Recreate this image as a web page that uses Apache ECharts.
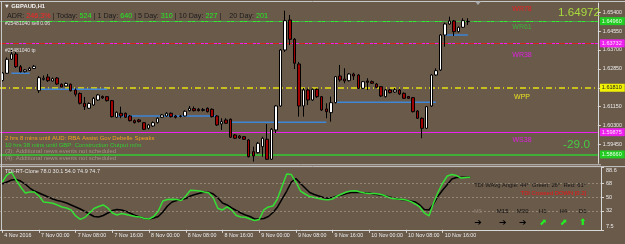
<!DOCTYPE html>
<html><head><meta charset="utf-8">
<script src="https://cdn.jsdelivr.net/npm/echarts@6/dist/echarts.min.js"></script>
<style>html,body{margin:0;padding:0;background:#6a5a4a;overflow:hidden}#c{width:625px;height:244px}</style>
</head><body><div id="c"></div>
<script>
// ---- time axis (H1 bars) ----
const sessions = [["4 Nov",16,23],["7 Nov",0,23],["8 Nov",0,23],["9 Nov",0,23],["10 Nov",0,22]];
const tickLabels = ["4 Nov 2016","7 Nov 00:00","7 Nov 08:00","7 Nov 16:00","8 Nov 00:00","8 Nov 08:00","8 Nov 16:00","9 Nov 00:00","9 Nov 08:00","9 Nov 16:00","10 Nov 00:00","10 Nov 08:00","10 Nov 16:00"];
const emptySlots = 28; // chart shift area on the right

// ---- GBPAUD H1 OHLC ----
const opens = [1.62328,1.62652,1.63282,1.63520,1.62949,1.62724,1.62778,1.62868,
1.61869,1.62373,1.62485,1.62305,1.62440,1.62157,1.62080,1.62157,1.61900,1.61743,1.61302,1.61077,1.61225,1.61450,1.61608,1.61599,
1.61419,1.60672,1.60852,1.60852,1.60730,1.60519,1.60550,1.60429,1.60177,1.60280,1.60429,1.60672,1.60730,1.60852,1.60730,1.60708,
1.60730,1.60969,1.61059,1.61032,1.60978,1.61077,1.61032,1.60730,1.60370,1.60550,1.60582,1.59875,1.59830,1.59799,1.59650,1.59124,
1.59079,1.59349,1.59682,1.58782,1.60100,1.61180,1.63700,1.65050,1.64182,1.63070,1.61180,1.61900,1.61450,1.61932,1.61599,1.61045,
1.60879,1.61329,1.62530,1.62395,1.62319,1.62620,1.62575,1.61977,1.62305,1.62274,1.62170,1.62049,1.61599,1.61900,1.61810,1.61900,
1.61752,1.61608,1.61554,1.60955,1.60627,1.60177,1.61180,1.62575,1.62800,1.64375,1.64870,1.65005,1.64524,1.64722,1.64983];
const closes = [1.62665,1.63282,1.63520,1.62949,1.62724,1.62800,1.62877,1.62967,
1.62454,1.62427,1.62319,1.62409,1.62170,1.62035,1.62193,1.61869,1.61707,1.61302,1.61149,1.61293,1.61527,1.61675,1.61540,1.61419,
1.60699,1.60897,1.60730,1.60672,1.60519,1.60429,1.60474,1.60132,1.60325,1.60429,1.60627,1.60775,1.60852,1.60699,1.60672,1.60730,
1.60942,1.61077,1.60969,1.60969,1.61023,1.60924,1.60699,1.60325,1.60474,1.60402,1.59772,1.59727,1.59740,1.59682,1.58899,1.58930,
1.59502,1.59727,1.58782,1.60132,1.61180,1.63700,1.65019,1.64182,1.63102,1.61180,1.61900,1.61450,1.61932,1.61599,1.61000,1.60924,
1.61329,1.62499,1.62350,1.62305,1.62620,1.62530,1.61977,1.62274,1.62247,1.62202,1.62022,1.61630,1.61900,1.61779,1.61900,1.61720,
1.61527,1.61527,1.60924,1.60627,1.60177,1.61149,1.62575,1.62769,1.64375,1.64870,1.65005,1.64524,1.64722,1.65019,1.64972];
const lows = [1.62283,1.62620,1.63250,1.62890,1.62688,1.62688,1.62755,1.62845,
1.61765,1.62328,1.62260,1.62283,1.62125,1.62013,1.62058,1.61833,1.61608,1.61248,1.61000,1.61045,1.61180,1.61405,1.61495,1.61383,
1.60663,1.60640,1.60627,1.60640,1.60483,1.60393,1.60438,1.60100,1.60123,1.60235,1.60393,1.60640,1.60685,1.60663,1.60618,1.60663,
1.60708,1.60933,1.60933,1.60933,1.60933,1.60888,1.60663,1.60280,1.60100,1.60370,1.59740,1.59695,1.59695,1.59650,1.58863,1.58674,
1.59043,1.58899,1.58750,1.58750,1.59965,1.61135,1.63610,1.63925,1.62845,1.60699,1.60699,1.61225,1.61405,1.61540,1.60955,1.60627,
1.60474,1.61293,1.62274,1.62202,1.62283,1.62350,1.61945,1.61945,1.61900,1.62170,1.61990,1.61585,1.61563,1.61743,1.61765,1.61675,
1.61495,1.61495,1.60888,1.60595,1.59727,1.60145,1.61135,1.62530,1.62755,1.63849,1.64825,1.64330,1.64488,1.64690,1.64825];
const highs = [1.62710,1.63363,1.63700,1.63610,1.63025,1.62845,1.62935,1.63025,
1.62530,1.62553,1.62620,1.62463,1.62485,1.62193,1.62238,1.62193,1.61968,1.61788,1.61585,1.61338,1.61585,1.61720,1.61653,1.61630,
1.61450,1.60933,1.61149,1.60888,1.60775,1.60573,1.60595,1.60460,1.60370,1.60483,1.60663,1.60820,1.60910,1.60888,1.60775,1.60775,
1.60978,1.61180,1.61158,1.61090,1.61090,1.61113,1.61068,1.60775,1.60627,1.60627,1.60618,1.59920,1.59875,1.59830,1.59695,1.59349,
1.59560,1.59799,1.60370,1.60190,1.61225,1.63745,1.65469,1.65275,1.64240,1.63160,1.61990,1.61968,1.61968,1.61968,1.61630,1.61302,
1.61599,1.62530,1.63025,1.62877,1.62665,1.62679,1.62620,1.62305,1.62427,1.62328,1.62215,1.62080,1.61945,1.61945,1.61990,1.61945,
1.61788,1.61630,1.61585,1.61000,1.60663,1.61180,1.62620,1.62877,1.64420,1.64929,1.65199,1.65050,1.64758,1.65127,1.65127];

// ---- pivot levels & order lines ----
const pivotNames  = ["WR78","WR61","WR38","WPP","WS38","WS61"];
const pivotValues = [1.65793,1.64960,1.63732,1.61810,1.59875,1.58660];
const orderNames  = ["#25481040 sell 0.06","#25481040 tp"];
const orderValues = [1.64713,1.63543];
// blue segments: [startBar, endBar, price]
const blueSegs = [[2,6,1.62652],[8,23,1.61932],[25,47,1.60730],[50,71,1.60447],[73,95,1.61347],[97,102,1.64375]];
const currentPrice = "1.64972";
const spreadText = "-29.0";

// ---- TDI indicator ----
const tdiGreen = [69.7,78.8,82.7,72.3,63.2,55.4,56.7,56.7,
51.5,43.7,43.0,42.0,39.8,37.2,35.9,33.3,25.5,21.0,23.6,29.4,35.3,37.8,39.8,35.9,
29.4,26.8,28.7,27.4,26.1,24.8,24.2,22.2,21.6,24.8,32.0,45.0,46.9,47.2,46.9,45.6,
51.5,58.9,58.6,58.0,56.7,55.6,48.9,35.3,33.3,37.2,33.3,26.1,24.2,23.8,21.6,19.6,
21.0,33.3,37.2,38.5,48.2,64.5,80.1,79.4,69.7,58.0,54.1,50.8,49.5,48.2,46.9,46.5,
47.6,51.5,54.1,56.7,58.0,58.3,56.7,55.4,54.7,54.7,54.1,52.8,50.2,48.2,47.6,47.2,
46.3,44.4,41.1,37.2,29.4,25.5,42.4,56.7,68.4,77.5,79.4,78.1,74.9,75.5,75.8];
const tdiBlack = [67.1,69.7,72.3,73.0,71.0,67.1,61.9,58.0,
55.4,52.8,50.2,47.6,45.6,44.4,42.4,39.8,37.2,34.6,31.4,28.1,24.8,24.2,26.1,29.4,
32.6,33.9,33.3,31.4,28.7,26.1,24.2,22.2,21.6,22.9,24.8,30.7,38.5,43.7,45.6,46.9,
48.2,51.5,53.4,55.0,56.3,56.3,54.1,48.9,42.4,39.8,35.9,32.6,29.4,26.8,24.8,21.6,
21.6,22.2,24.8,30.0,37.2,47.6,58.0,69.7,74.2,67.7,61.9,56.0,53.4,51.5,49.5,48.5,
49.5,51.5,52.8,54.7,56.0,56.3,56.0,55.8,55.4,54.1,53.1,52.5,50.8,49.1,47.6,46.9,
45.9,45.0,43.7,39.8,33.9,33.3,41.1,51.5,59.3,66.4,73.6,75.5,75.8,75.8,75.8];
const indLevels = [7.5,32,50,68,88.6];
const indDotted = [32,50,68];
const tdiHeader = "TDI-RT-Clone 78.0 30.1 54.0 74.9 74.7";
const tfNames = ["M5","M15","M30","H1","H4","D1"];
const tfArrows = ["➔","➔","➔","⬈","⬈","⬆"];
const newsLines = ["2 hrs 8 mins until AUD: RBA Assist Gov Debelle Speaks","10 hrs 38 mins until GBP: Construction Output m/m","(3): Additional news events not scheduled","(4): Additional news events not scheduled"];
const adr = {ADR:"246.3%", Today:"524", d1:"640", d5:"310", d10:"227", d20:"201"};

// ---- build ----
const cats = [];
sessions.forEach(([d,h0,h1]) => { for (let h=h0; h<=h1; h++) cats.push(d+" "+String(h).padStart(2,"0")+":00"); });
const nBars = cats.length;
for (let i=0;i<emptySlots;i++) cats.push("");
const candleData = opens.map((o,i)=>[o, closes[i], lows[i], highs[i]]);

const FONT = "'Liberation Sans', Arial, sans-serif";
const pivotStyle = [
  {c:'#ff1a1a', t:'solid', w:1, box:'#ff1a1a', tc:'#ffd0d0', lc:'#e82020'},
  {c:'#33ee33', t:'solid', w:1, box:'#22cc22', tc:'#e8ffe8', lc:'#3cb43c'},
  {c:'#ee22ee', t:'solid', w:1, box:'#ee22ee', tc:'#ffe0ff', lc:'#e020e0'},
  {c:'#e8e010', t:[6,3,1,3], w:1.5, box:'#f0f000', tc:'#222', lc:'#e8e020'},
  {c:'#ee22ee', t:'solid', w:1, box:'#ee22ee', tc:'#ffe0ff', lc:'#e020e0'},
  {c:'#33cc33', t:'solid', w:1.5, box:'#22cc22', tc:'#e8ffe8', lc:'#3cb43c'}
];
const orderStyle = [{c:'#4aa84a'},{c:'#e02020'}];

const markData = [];
pivotValues.forEach((v,i)=>{
  const s = pivotStyle[i];
  markData.push({yAxis:v, lineStyle:{color:s.c, type:s.t, width:s.w},
    label:{show:true, position:'end', distance:2, formatter:()=>v.toFixed(5), backgroundColor:s.box, color:s.tc,
      fontSize:5.5, fontFamily:FONT, padding:[1,3,1,2]}});
});
orderValues.forEach((v,i)=>{
  markData.push({yAxis:v, lineStyle:{color:orderStyle[i].c, type:[6,3,1,3], width:1}, label:{show:false}});
});

const series = [];
blueSegs.forEach(([a,b,p])=>{
  series.push({type:'line', xAxisIndex:0, yAxisIndex:0, data:[[a,p],[b,p]], symbol:'none', silent:true,
    lineStyle:{color:'#3d86d8', width:1.5}, z:2});
});
series.push({type:'candlestick', xAxisIndex:0, yAxisIndex:0, data:candleData, barWidth:3, z:3,
  itemStyle:{color:'#ffffff', color0:'#a00000', borderColor:'#000000', borderColor0:'#000000', borderWidth:1},
  markLine:{symbol:['none','none'], silent:true, animation:false, data:markData, z:1}});
series.push({type:'line', xAxisIndex:1, yAxisIndex:1, data:tdiGreen, symbol:'none', silent:true,
  lineStyle:{color:'#33e033', width:1.5}, z:4,
  markLine:{symbol:['none','none'], silent:true, label:{show:false},
    data: indDotted.map(v=>({yAxis:v})), lineStyle:{color:'rgba(175,165,150,0.6)', type:[2,2], width:1}}});
series.push({type:'line', xAxisIndex:1, yAxisIndex:1, data:tdiBlack, symbol:'none', silent:true,
  lineStyle:{color:'#000000', width:1.5}, z:3});

const axisCol = '#d8d8d8';
const option = {
  backgroundColor:'#6a5a4a',
  animation:false,
  grid:[{left:0, top:3, width:601, height:160.3},{left:0, top:167.5, width:601, height:62.3}],
  xAxis:[
    {type:'category', gridIndex:0, data:cats, boundaryGap:true, axisLine:{show:false}, axisTick:{show:false}, axisLabel:{show:false}},
    {type:'category', gridIndex:1, data:cats, boundaryGap:true,
      axisLine:{show:true, lineStyle:{color:axisCol}},
      axisTick:{show:true, alignWithLabel:true, length:3, interval:(i)=> i%8===0 && i<nBars, lineStyle:{color:axisCol}},
      axisLabel:{show:true, interval:(i)=> i%8===0 && i<nBars, formatter:(v,i)=>tickLabels[i/8]||'', align:'left',
        color:'#ececec', fontSize:5.3, fontFamily:FONT, margin:3, padding:[0,0,0,2]}}
  ],
  yAxis:[
    {type:'value', gridIndex:0, position:'right', min:1.586, max:1.65815, interval:0.0085,
      axisLine:{show:true, lineStyle:{color:axisCol}}, axisTick:{show:true, length:3, lineStyle:{color:axisCol}},
      splitLine:{show:false},
      axisLabel:{formatter:v=>v.toFixed(5), color:'#ececec', fontSize:5.3, fontFamily:FONT, margin:5, showMinLabel:false, showMaxLabel:false}},
    {type:'value', gridIndex:1, position:'right', min:7.5, max:88.6,
      axisLine:{show:true, lineStyle:{color:axisCol}}, axisTick:{show:true, length:3, customValues:indLevels, lineStyle:{color:axisCol}},
      splitLine:{show:false},
      axisLabel:{customValues:indLevels, formatter:v=>String(v), color:'#ececec', fontSize:5.5, fontFamily:FONT, margin:5,
        verticalAlignMaxLabel:'top', verticalAlignMinLabel:'bottom'}}
  ],
  series
};

const chart = echarts.init(document.getElementById('c'), null, {renderer:'canvas', width:625, height:244});
chart.setOption(option);

const gy = p => chart.convertToPixel({xAxisIndex:0, yAxisIndex:0}, [0,p])[1];
const g = [];
function txt(x,y,text,fill,size,extra){ g.push({type:'text', x, y, silent:true, z:50,
  style:Object.assign({text, fill, font: size+'px '+FONT, verticalAlign:'middle', align:'left'}, extra||{})}); }
function line(x1,y1,x2,y2,c,w){ g.push({type:'line', silent:true, z:40, shape:{x1,y1,x2,y2}, style:{stroke:c, lineWidth:w}}); }

// frame
line(0,1.5,625,1.5,'#c8c8c8',1);
line(1.5,2,1.5,230,'#c8c8c8',1);
line(0,164.8,601,164.8,'#c8c8c8',1);
line(0,166.6,625,166.6,'#c8c8c8',1);
g.push({type:'polygon', silent:true, z:45, shape:{points:[[475,1.5],[481,1.5],[478,5]]}, style:{fill:'#a8a8a8'}});

// header
txt(4,6.5,'▼ GBPAUD,H1','#f4f4f4',5.8,{font:'bold 5.8px '+FONT});
g.push({type:'text', x:7, y:16.5, silent:true, z:50, style:{
  text:'{k|ADR: }{r|'+adr.ADR+'}{k| | Today: }{g|'+adr.Today+'}{k| | 1 Day: }{g|'+adr.d1+'}{k| | 5 Day: }{g|'+adr.d5+'}{k| | 10 Day: }{g|'+adr.d10+'}{k| |    20 Day: }{g|'+adr.d20+'}',
  verticalAlign:'middle',
  rich:{k:{fill:'#1c1c1c', font:'7.2px '+FONT}, r:{fill:'#ff2222', font:'7.2px '+FONT}, g:{fill:'#22ee22', font:'7.2px '+FONT}}}});

// order labels
txt(5, gy(orderValues[0])-3.5, orderNames[0], '#e0e0e0', 5);
txt(5, gy(orderValues[1])-3, orderNames[1], '#e0e0e0', 5);

// pivot names
pivotNames.forEach((n,i)=>{ if (i<5) txt(522, gy(pivotValues[i])+5.5, n, pivotStyle[i].lc, 7, {align:'center'}); });
txt(600, 12.5, currentPrice, '#a8dc3c', 11.6, {align:'right'});
txt(590, 145, spreadText, '#44cc44', 11.8, {align:'right'});

// news
const newsCol = ['#f0a020','#33cc33','#a09484','#a09484'];
newsLines.forEach((t,i)=> txt(5, 138.3+i*6.7, t, newsCol[i], 6));

// indicator texts
txt(5, 171.5, tdiHeader, '#e8e8e8', 5.5);
txt(586, 185, 'TDI WAvg Angle: 44°  Green: 26°  Red: 61°', '#151515', 5.8, {align:'right'});
txt(586, 193.7, 'TDI Crossed DOWN [0.2]', '#ee1111', 5.8, {align:'right'});
const tfX = [478,502.7,522.7,542.7,563.3,582.7];
tfNames.forEach((n,i)=>{
  txt(tfX[i], 211.7, n, i===0?'#8a7d70':'#111111', 6, {align:'center'});
  txt(tfX[i], 222.7, tfArrows[i], i<3?'#000000':'#22ee22', 9, {align:'center', font:'bold 9px DejaVu Sans'});
});

chart.setOption({graphic:g});
</script>
</body></html>
